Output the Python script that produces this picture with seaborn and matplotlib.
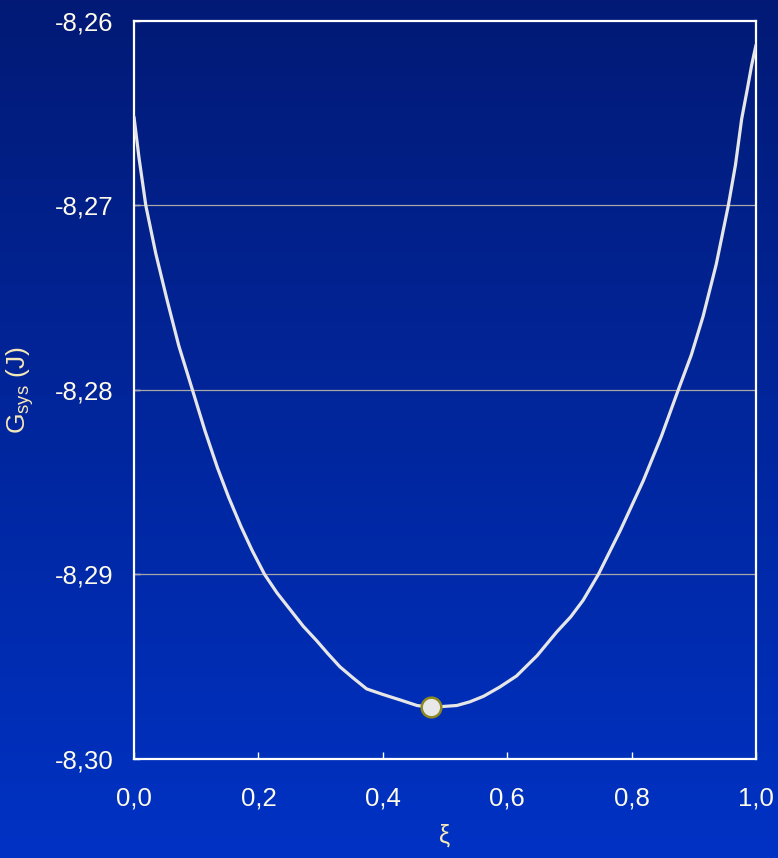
import numpy as np
import pandas as pd
import matplotlib
matplotlib.use("Agg")
import matplotlib.pyplot as plt
import seaborn as sns

# Data
xi = [0.0, 0.008, 0.019, 0.035, 0.053, 0.072, 0.094, 0.114, 0.134, 0.152, 0.172,
      0.19, 0.21, 0.23, 0.251, 0.272, 0.294, 0.312, 0.331, 0.352, 0.374, 0.4,
      0.428, 0.455, 0.4775, 0.519, 0.54, 0.562, 0.588, 0.615, 0.648, 0.68, 0.702,
      0.722, 0.7465, 0.782, 0.819, 0.848, 0.875, 0.896, 0.915, 0.936, 0.9555,
      0.967, 0.977, 0.986, 0.993, 1.0]
g_sys = [-8.2652, -8.2674, -8.2700, -8.2726, -8.2751, -8.2776, -8.2800, -8.2822,
         -8.2842, -8.2858, -8.2874, -8.2887, -8.2900, -8.2910, -8.2919, -8.2928,
         -8.2936, -8.2943, -8.2950, -8.2956, -8.2962, -8.2965, -8.2968, -8.2971,
         -8.2972, -8.2971, -8.2969, -8.2966, -8.2961, -8.2955, -8.2944, -8.2931,
         -8.2923, -8.2914, -8.2900, -8.2876, -8.2849, -8.2825, -8.2800, -8.2781,
         -8.2760, -8.2732, -8.2700, -8.2678, -8.2653, -8.2637, -8.2624, -8.2613]
min_xi = [0.4775]
min_g = [-8.2972]
x_ticks = [0.0, 0.2, 0.4, 0.6, 0.8, 1.0]
x_ticklabels = ["0,0", "0,2", "0,4", "0,6", "0,8", "1,0"]
y_ticks = [-8.30, -8.29, -8.28, -8.27, -8.26]
y_ticklabels = ["-8,30", "-8,29", "-8,28", "-8,27", "-8,26"]

sns.set_style("white")
plt.rcParams['font.family'] = ['Liberation Sans', 'DejaVu Sans']
plt.rcParams['mathtext.default'] = 'regular'

fig = plt.figure(figsize=(7.78, 8.58), dpi=100)

# background gradient
bg = fig.add_axes([0, 0, 1, 1], zorder=-10)
top = np.array([2, 26, 118]) / 255.0
bot = np.array([0, 50, 196]) / 255.0
t = np.linspace(0, 1, 256)[:, None]
grad = (top[None, :] * (1 - t) + bot[None, :] * t)[:, None, :]
bg.imshow(grad, aspect='auto', extent=[0, 1, 0, 1], origin='upper')
bg.set_axis_off()

ax = fig.add_axes([134/778, 1 - 759/858, (756-134)/778, (759-21)/858])
ax.set_facecolor('none')

df = pd.DataFrame({"xi": xi, "g": g_sys})
sns.lineplot(data=df, x="xi", y="g", ax=ax, color="#e6e6e6", linewidth=2.3,
             sort=False, zorder=3)
dm = pd.DataFrame({"xi": min_xi, "g": min_g})
sns.scatterplot(data=dm, x="xi", y="g", ax=ax, s=200, color="#e8e8e8",
                edgecolor="#8c8a1e", linewidth=1.8, zorder=4)

ax.set_xlim(0, 1)
ax.set_ylim(-8.30, -8.26)
ax.set_xticks(x_ticks)
ax.set_xticklabels(x_ticklabels)
ax.set_yticks(y_ticks)
ax.set_yticklabels(y_ticklabels)

for yv in [-8.27, -8.28, -8.29]:
    ax.axhline(yv, color="#a8a8a8", linewidth=0.9, zorder=1)

for s in ax.spines.values():
    s.set_color("white")
    s.set_linewidth(1.6)
    s.set_visible(True)

ax.tick_params(axis='x', direction='in', length=5, width=1, color='white',
               labelsize=18.5, labelcolor='#fffbea', pad=20, bottom=True)
ax.tick_params(axis='y', direction='in', length=4, width=1, color='white',
               labelsize=18.5, labelcolor='#fffbea', pad=15, left=True)

ax.set_xlabel("ξ", fontsize=18, color='#f5e8b8')
ax.xaxis.set_label_coords(0.5, (759 - 824) / 738)
ax.set_ylabel("G$_{sys}$ (J)", fontsize=19, color='#f5e8b8')
ax.yaxis.set_label_coords((36 - 134) / 622, 0.5)

fig.savefig("out.png", dpi=100)
